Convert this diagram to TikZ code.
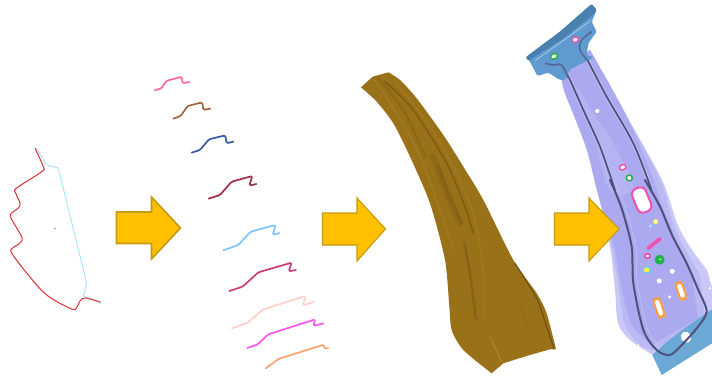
\documentclass[tikz,border=0pt]{standalone}
\definecolor{arrowfill}{HTML}{FFC000}
\definecolor{arrowedge}{HTML}{C79A10}
\definecolor{bronze}{HTML}{987119}
\definecolor{bronzedark}{HTML}{6E4F12}
\definecolor{bronzelight}{HTML}{B08A30}
\definecolor{lav}{HTML}{ABAAF0}
\definecolor{lavlight}{HTML}{C9C8F7}
\definecolor{lavmid}{HTML}{BAB9F3}
\definecolor{groove}{HTML}{50507C}
\definecolor{steel}{HTML}{5F9BD0}
\definecolor{steeldark}{HTML}{4A80AE}
\definecolor{steellow}{HTML}{6BA8D6}
\definecolor{ringgreen}{HTML}{22B14C}
\definecolor{ringpink}{HTML}{F050B0}
\tikzset{
  flowarrow/.style={fill=arrowfill,draw=arrowedge,line width=1.1pt,line join=miter},
  prof/.style={line width=1.7pt,line join=round,line cap=round,rounded corners=1.5pt},
  zoomA/.style={shift={(140,60)},x=.3333pt,y=-.3333pt},
  zoomB/.style={shift={(210,210)},x=.3333pt,y=-.3333pt},
  zoomC/.style={shift={(350,60)},x=.3333pt,y=-.3333pt},
  zoomD/.style={shift={(520,0)},x=.3333pt,y=-.3333pt},
  zoomE/.style={shift={(590,180)},x=.3333pt,y=-.3333pt},
  ring/.style={fill=white,line width=1.5pt},
  slotring/.style={fill=white,line width=2pt},
}
\begin{document}
\begin{tikzpicture}[x=1pt,y=-1pt]
\useasboundingbox (0,0) rectangle (712,377);
% section outline
\draw[cyan!35,line width=.9pt] (36,148) -- (46.7,165) -- (58.3,168) -- (86.7,283) -- (83.3,296) -- (100,302);
\draw[red!80!black!80,line width=1pt] plot[smooth,tension=.55] coordinates {(35,148.3) (43.3,166.7) (41.7,171.7) (16.7,188) (15.7,193) (20,203) (18.3,208) (11.7,213) (11,218) (21.7,237) (20,243) (12.7,248) (11.7,253) (26.7,273) (46.7,295) (71.7,309) (77,307) (80,301) (85,298) (100,302)};
\fill[violet!40] (55,228.5) circle (1.1);
\fill[gray!70] (100,302.5) circle (1.1);
% arrows
\draw[flowarrow,line width=1.6pt] (116.5,212) -- (151.5,212) -- (151.5,197) -- (180.5,228) -- (151.5,259) -- (151.5,243.5) -- (116.5,243.5) -- cycle;
\draw[flowarrow] (322.5,213) -- (357,213) -- (357,198) -- (385.5,229) -- (357,261) -- (357,245) -- (322.5,245) -- cycle;
% profiles
\begin{scope}[zoomA]
\draw[prof,color={rgb,255:red,255;green,105;blue,170}] (44,91) -- (65,85) -- (78,63) -- (125,50) -- (128,70) -- (148,66);
\draw[prof,color={rgb,255:red,160;green,100;blue,65}] (100,176) -- (122,168) -- (143,138) -- (187,127) -- (190,150) -- (211,146);
\draw[prof,color={rgb,255:red,55;green,90;blue,165}] (155,278) -- (180,270) -- (207,238) -- (256,226) -- (260,250) -- (280,245);
\draw[prof,color={rgb,255:red,160;green,45;blue,70}] (206,416) -- (240,405) -- (275,365) -- (337,348) -- (328,377) -- (349,372);
\end{scope}
\begin{scope}[zoomB]
\draw[prof,color={rgb,255:red,125;green,195;blue,255}] (40,121) -- (85,105) -- (122,65) -- (197,45) -- (188,75) -- (208,69);
\draw[prof,color={rgb,255:red,200;green,60;blue,120}] (58,243) -- (98,230) -- (145,187) -- (245,158) -- (236,184) -- (258,180);
\draw[prof,color={rgb,255:red,255;green,208;blue,200}] (66,355) -- (110,340) -- (160,298) -- (287,258) -- (278,286) -- (312,276);
\draw[prof,color={rgb,255:red,255;green,85;blue,240}] (112,414) -- (142,404) -- (175,373) -- (316,328) -- (310,348) -- (340,340);
\draw[prof,color={rgb,255:red,255;green,160;blue,115}] (168,475) -- (205,447) -- (342,404) -- (342,415) -- (355,415);
\end{scope}
% bronze panel
\begin{scope}[zoomC]
\fill[bronze] (33,82) -- (68,50) -- (115,37) -- plot[smooth,tension=.45] coordinates {(115,37) (150,60) (200,115) (280,225) (340,320) (400,420) (490,600) (560,700) (590,760) (618,868)} -- (600,868) -- (540,885) -- (460,910) -- (425,940) -- plot[smooth,tension=.45] coordinates {(425,940) (340,870) (305,810) (298,740) (285,600) (240,430) (180,290) (130,190) (80,125) (33,82)} -- cycle;
\begin{scope}[line cap=round,line join=round]
\draw[bronzedark,opacity=.22,line width=6pt] plot[smooth,tension=.5] coordinates {(250,290) (290,400) (330,490)};
\draw[bronzedark,opacity=.25,line width=3.5pt] plot[smooth,tension=.5] coordinates {(265,320) (300,410) (335,490)};
\draw[bronzedark,opacity=.22,line width=3pt] plot[smooth,tension=.5] coordinates {(340,540) (360,640) (380,780)};
\draw[bronzedark,opacity=.6,line width=1.4pt] plot[smooth,tension=.5] coordinates {(105,65) (190,150) (290,310) (345,440) (370,520)};
\draw[bronzedark,opacity=.25,line width=2.4pt] plot[smooth,tension=.5] coordinates {(85,55) (160,150) (225,290)};
\draw[bronzelight,opacity=.55,line width=1pt] plot[smooth,tension=.5] coordinates {(75,60) (150,175) (215,300) (270,450) (310,570)};
\draw[bronzelight,opacity=.45,line width=1pt] plot[smooth,tension=.5] coordinates {(130,60) (230,185) (320,340) (375,480) (400,640) (400,780)};
\draw[bronzedark,opacity=.45,line width=.9pt] plot[smooth,tension=.5] coordinates {(345,550) (365,680) (375,775)};
\draw[bronzelight,opacity=.8,line width=1.2pt] (420,830) -- (455,905);
\draw[bronzedark,line width=1.1pt] plot[smooth,tension=.5] coordinates {(495,610) (560,715) (590,800) (612,866)};
\draw[bronzedark,opacity=.25,line width=.6pt] (510,720) -- (530,800) -- (575,790);
\end{scope}
\end{scope}
% finished part: lavender body
\fill[lavlight] plot[smooth,tension=.5] coordinates {(560,70) (564,90) (573,113) (587,150) (597,190) (610,247) (615,290) (618,323) (630,340) (653,355)} -- (712,330) -- (712,287) -- plot[smooth,tension=.5] coordinates {(707,270) (690,247) (677,223) (662,180) (625,113) (590,50)} -- cycle;
\fill[lavmid] plot[smooth,tension=.5] coordinates {(560,70) (564,90) (573,113) (587,150) (597,190) (612,247) (619,290) (625,325) (640,345) (653,350)} -- (705,320) -- plot[smooth,tension=.5] coordinates {(700,275) (684,247) (673,223) (660,180) (625,113) (590,50)} -- cycle;
\fill[lav] plot[smooth,tension=.5] coordinates {(560,70) (564,90) (573,113) (587,150) (597,190) (614,247) (622,290) (632,325) (652,345)} -- (698,318) -- plot[smooth,tension=.5] coordinates {(692,275) (676,240) (660,200) (650,170) (625,113) (590,50)} -- cycle;
\begin{scope}[zoomD]
\fill[lavmid,opacity=.7] plot[smooth cycle,tension=.6] coordinates {(170,260) (220,340) (280,430) (340,560) (270,570) (220,400)};
\end{scope}
% lower flange band
\begin{scope}[zoomE]
\fill[steellow] (187,525) -- (215,585) -- (366,490) -- (366,388) -- (355,395) -- (290,440) -- (225,490) -- cycle;
\fill[white,rotate around={25:(288,472)}] (288,472) ellipse (15 and 17);
\end{scope}
% grooves
\begin{scope}[zoomD,line cap=round,line join=round]
\draw[lavmid,line width=4pt] plot[smooth,tension=.5] coordinates {(125,195) (150,240) (190,330) (240,440) (285,570)};
\draw[groove,line width=1.7pt] plot[smooth,tension=.5] coordinates {(125,195) (150,240) (190,330) (240,440) (285,570)};
\draw[lavmid,line width=4pt] plot[smooth,tension=.5] coordinates {(185,150) (205,185) (260,290) (340,430) (395,570)};
\draw[groove,line width=1.7pt] plot[smooth,tension=.5] coordinates {(185,150) (205,185) (260,290) (340,430) (395,570)};
\end{scope}
\begin{scope}[zoomE,line cap=round,line join=round]
\draw[groove,line width=2pt] plot[smooth,tension=.5] coordinates {(60,0) (95,85) (125,200) (130,310) (160,450) (200,510) (240,525) (280,490) (320,445) (350,395) (325,330) (290,250) (246,165) (210,80) (165,0)};
\draw[lavlight,line width=.5pt] plot[smooth,tension=.5] coordinates {(72,0) (107,85) (137,200) (142,310) (172,445) (205,498)};
\end{scope}
% upper flange
\begin{scope}[zoomD,line join=round]
\fill[steel,rounded corners=1.5pt] (17,172) -- (120,95) -- (215,12) -- (230,30) -- (215,65) -- (230,95) -- (205,130) -- (200,165) -- (222,172) -- (150,208) -- (135,240) -- (120,240) -- (85,218) -- (52,228) -- (30,185) -- cycle;
\fill[steeldark,rounded corners=1pt] (17,172) -- (120,95) -- (215,12) -- (230,30) -- (222,42) -- (130,115) -- (25,182) -- cycle;
\draw[steel!45!white,line width=.6pt] (45,182) -- (135,118) -- (212,62);
\draw[groove!70!steel,line width=1.6pt] plot[smooth,tension=.5] coordinates {(75,190) (100,195) (125,195) (145,235)};
\draw[groove!70!steel,line width=1.6pt] plot[smooth,tension=.5] coordinates {(215,95) (185,120) (180,150) (205,185)};
\draw[ring,draw=ringgreen,rotate around={25:(102,169)}] (102,169) ellipse (11 and 8);
\draw[ring,draw=ringpink,rotate around={25:(166,119)}] (166,119) ellipse (10 and 8);
\fill[white] (232,333) circle (6.5);
\draw[ring,draw=ringpink,rotate around={25:(308,502)}] (308,502) ellipse (10 and 8);
\draw[ring,draw=ringgreen] (328,534) ellipse (9 and 9);
\end{scope}
% holes in the lower part
\begin{scope}[zoomE]
\draw[slotring,draw=ringpink,rounded corners=6pt,rotate around={22:(155,60)}] (133,22) rectangle (177,98);
\draw[yellow!70,fill=white,line width=1.1pt] (197,125) circle (6);
\draw[cyan!50,fill=white,line width=.8pt] (182,138) circle (4.5);
\draw[ringpink,line width=3.6pt,line cap=round] (175,205) -- (210,176);
\draw[ring,draw=ringpink!85!purple] (172,228) ellipse (8 and 7);
\fill[ringgreen] (209,239) ellipse (15 and 15);
\fill[white!60!green] (211,238) circle (3.5);
\draw[cyan!60,fill=yellow!75,line width=1.4pt] (170,270) ellipse (11 and 10);
\fill[white] (247,274) circle (7.5);
\fill[white] (208,303) circle (7.5);
\fill[white] (239,351) circle (5);
\fill[white] (360,325) circle (4);
\fill[white] (145,495) circle (3);
\draw[slotring,draw=orange!75,rounded corners=3.5pt,rotate around={18:(273,332)}] (263,307) rectangle (283,358);
\draw[slotring,draw=orange!75,rounded corners=3.5pt,rotate around={18:(207,383)}] (197,355) rectangle (217,412);
\end{scope}
% third arrow lies over the part
\draw[flowarrow] (554.5,213) -- (589,213) -- (589,198) -- (619,229) -- (589,261) -- (589,245) -- (554.5,245) -- cycle;
\end{tikzpicture}
\end{document}
